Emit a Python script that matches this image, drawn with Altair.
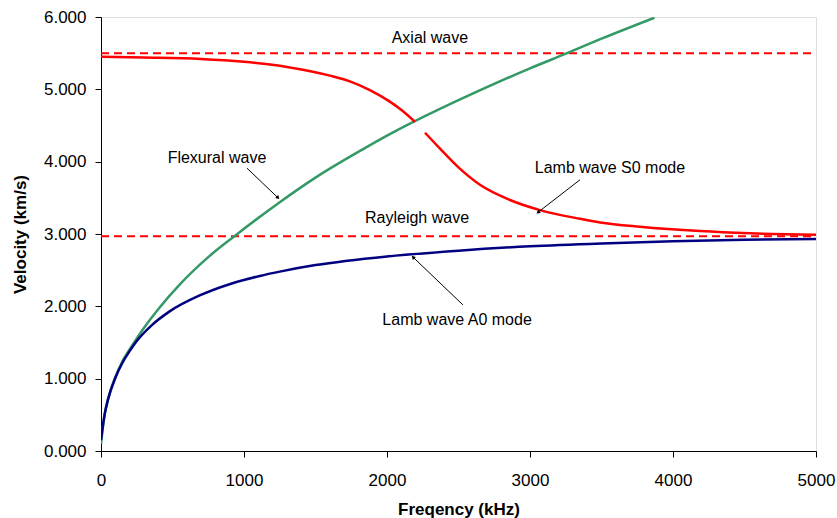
import altair as alt
import pandas as pd

# Dispersion curves: frequency (kHz) vs phase velocity (km/s)
flex_f = [0, 25, 50, 100, 150, 225, 300, 400, 550, 750, 940, 1250, 1500, 1830, 2000,
          2370, 2500, 3000, 3260, 3500, 3870]
flex_v = [0.10, 0.50, 0.72, 1.02, 1.24, 1.48, 1.70, 1.96, 2.30, 2.68, 2.98, 3.44, 3.78, 4.17, 4.36,
          4.73, 4.85, 5.29, 5.50, 5.70, 5.99]

a0_f = [0, 25, 50, 100, 150, 200, 250, 350, 480, 690, 920, 1110, 1250, 1500, 2000, 2500,
        3000, 3500, 4000, 4500, 5000]
a0_v = [0.15, 0.50, 0.72, 1.01, 1.22, 1.38, 1.52, 1.73, 1.93, 2.15, 2.32, 2.42, 2.48, 2.57, 2.69, 2.77,
        2.83, 2.87, 2.90, 2.92, 2.93]

# S0 mode is drawn in two pieces with a small break near 2200 kHz
s0a_f = [0, 300, 700, 1000, 1300, 1600, 1740, 1880, 2020, 2110, 2196]
s0a_v = [5.45, 5.44, 5.42, 5.38, 5.31, 5.19, 5.11, 4.99, 4.83, 4.70, 4.55]
s0b_f = [2266, 2371, 2500, 2650, 2860, 3070, 3350, 3490, 3770, 4190, 4540, 5000]
s0b_v = [4.40, 4.18, 3.92, 3.68, 3.47, 3.33, 3.21, 3.16, 3.10, 3.04, 3.01, 2.99]

axial_v = 5.50
rayleigh_v = 2.97

# Labels: text, x, y
label_text = ["Axial wave", "Rayleigh wave", "Flexural wave", "Lamb wave S0 mode", "Lamb wave A0 mode"]
label_f = [2300, 2210, 811, 3559, 2490]
label_v = [5.71, 3.22, 4.05, 3.91, 1.81]

# Leader lines: start (f, v) -> tip (f, v), tip angle in degrees
lead_f1 = [1021, 3350, 2531]
lead_v1 = [3.91, 3.75, 2.02]
lead_f2 = [1238, 3056, 2182]
lead_v2 = [3.50, 3.30, 2.68]
lead_ang = [134, 233, 314]

rows = []
for name, fs, vs in [("flex", flex_f, flex_v), ("a0", a0_f, a0_v),
                     ("s0a", s0a_f, s0a_v), ("s0b", s0b_f, s0b_v)]:
    for f, v in zip(fs, vs):
        rows.append({"curve": name, "f": f, "v": v})
curves = pd.DataFrame(rows)

FONT = "Liberation Sans"
x_scale = alt.Scale(domain=[0, 5000], nice=False, zero=True)
y_scale = alt.Scale(domain=[0, 6], nice=False, zero=True)

x_axis = alt.Axis(title="Freqency (kHz)", values=[0, 1000, 2000, 3000, 4000, 5000],
                  format="d", grid=False, domainColor="#000000", tickColor="#000000",
                  tickSize=6, labelPadding=15, labelFontSize=17, labelFont=FONT,
                  labelColor="#000000", titleFont=FONT, titleFontSize=17,
                  titleFontWeight="bold", titleColor="#000000", titlePadding=13,
                  labelFlush=False)
y_axis = alt.Axis(title="Velocity (km/s)", values=[0, 1, 2, 3, 4, 5, 6],
                  format=".3f", grid=False, domainColor="#000000", tickColor="#000000",
                  tickSize=6, labelPadding=9, labelFontSize=17, labelFont=FONT,
                  labelColor="#000000", titleFont=FONT, titleFontSize=17,
                  titleFontWeight="bold", titleColor="#000000", titlePadding=14,
                  labelFlush=False)

lines = alt.Chart(curves).mark_line(strokeWidth=2.5, interpolate="monotone", clip=True).encode(
    x=alt.X("f:Q", scale=x_scale, axis=x_axis),
    y=alt.Y("v:Q", scale=y_scale, axis=y_axis),
    color=alt.Color("curve:N", legend=None,
                    scale=alt.Scale(domain=["flex", "a0", "s0a", "s0b"],
                                    range=["#339966", "#000080", "#FF0000", "#FF0000"])),
    detail="curve:N",
)

refs = pd.DataFrame({"v": [axial_v, rayleigh_v]})
ref_lines = alt.Chart(refs).mark_rule(color="#FF0000", strokeWidth=2, strokeDash=[8, 5]).encode(
    y=alt.Y("v:Q", scale=y_scale),
    x=alt.value(0), x2=alt.value(715),
)

labels = pd.DataFrame({"t": label_text, "f": label_f, "v": label_v})
label_marks = alt.Chart(labels).mark_text(font=FONT, fontSize=16, color="#000000",
                                          align="center", baseline="middle").encode(
    x=alt.X("f:Q", scale=x_scale), y=alt.Y("v:Q", scale=y_scale), text="t:N")

leads = pd.DataFrame({"f1": lead_f1, "v1": lead_v1, "f2": lead_f2, "v2": lead_v2, "a": lead_ang})
lead_lines = alt.Chart(leads).mark_rule(color="#000000", strokeWidth=1).encode(
    x=alt.X("f1:Q", scale=x_scale), y=alt.Y("v1:Q", scale=y_scale),
    x2="f2:Q", y2="v2:Q")
lead_tips = alt.Chart(leads).mark_point(shape="triangle-up", filled=True, color="#000000",
                                        size=18, opacity=1).encode(
    x=alt.X("f2:Q", scale=x_scale), y=alt.Y("v2:Q", scale=y_scale),
    angle=alt.Angle("a:Q", scale=None))

chart = alt.layer(ref_lines, lines, lead_lines, lead_tips, label_marks).properties(
    width=715, height=434,
    autosize=alt.AutoSizeParams(type="none"),
    padding={"left": 101, "top": 17, "right": 21, "bottom": 67},
).configure_view(stroke=None).configure(background="#ffffff")

chart.save("out.html", embed_options={"renderer": "svg", "actions": False})
